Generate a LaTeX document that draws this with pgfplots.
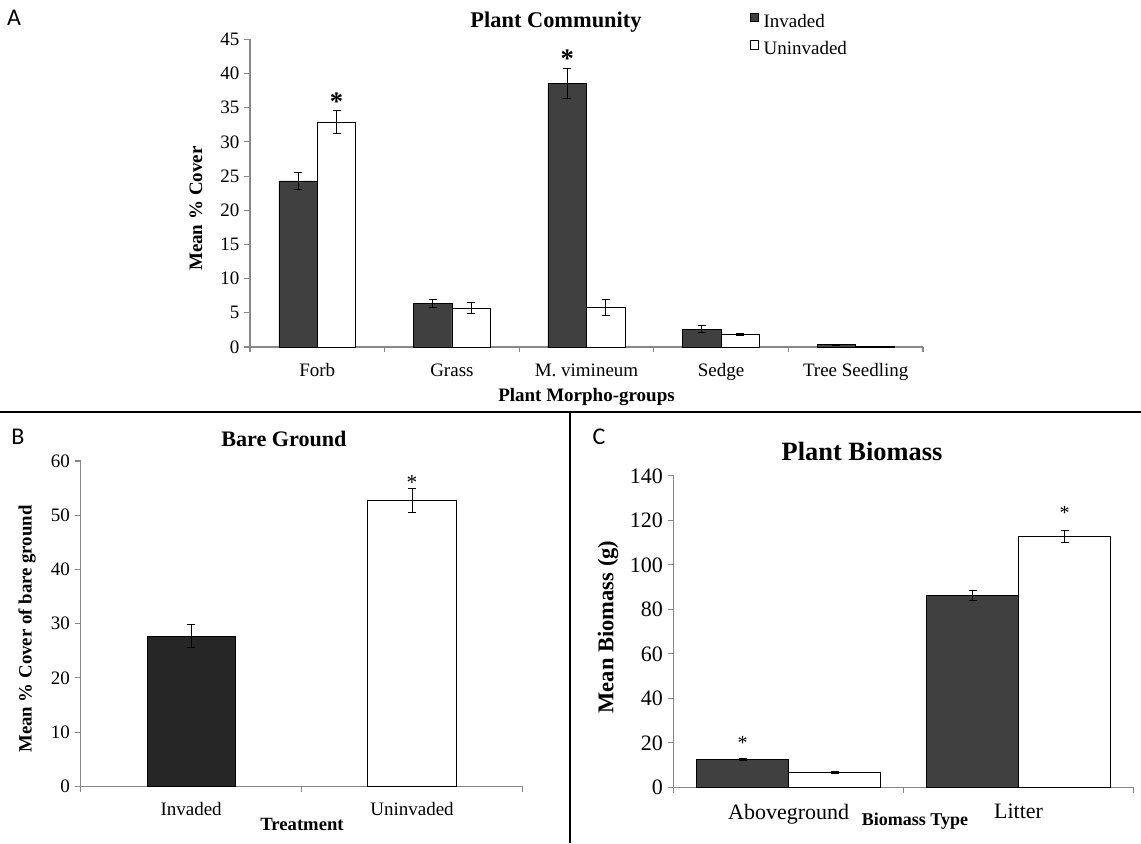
\documentclass[border=0pt]{standalone}
\usepackage{pgfplots}
\pgfplotsset{compat=1.18}
\usepackage{fontspec}
\setmainfont{Liberation Serif}
\newfontfamily\calibri{Carlito}
\definecolor{invA}{HTML}{404040}
\definecolor{invB}{HTML}{262626}
\definecolor{axgray}{HTML}{888888}
\newcommand{\fs}[1]{\fontsize{#1}{#1}\selectfont}
\pgfplotsset{
  panel/.style={
    scale only axis, anchor=south west,
    axis lines=left, axis line style={-, axgray, line width=0.8pt},
    enlargelimits=false, clip=false,
    tick align=outside,
    major tick length=4.5pt, minor tick length=4pt,
    major x tick style={draw=none},
    minor x tick style={axgray, line width=0.8pt},
    ytick style={axgray, line width=0.8pt},
    /pgf/number format/assume math mode=true,
    error bars/y dir=both, error bars/y explicit,
    error bars/error bar style={black, line width=0.6pt},
    error bars/error mark options={rotate=90, black, mark size=3pt, line width=0.6pt},
    xlabel style={anchor=base},
    ylabel style={anchor=center},
  },
  invbar/.style={fill=invA, draw=black, line width=0.4pt},
  unbar/.style={fill=white, draw=black, line width=0.6pt},
}
\begin{document}
\begin{tikzpicture}
\path[use as bounding box] (0pt,0pt) rectangle (855.75pt,632.25pt);
% dividers
\draw[line width=1.3pt] (0pt,323.25pt) -- (855.75pt,323.25pt);
\draw[line width=1.3pt] (427.5pt,323.25pt) -- (427.5pt,0pt);
% panel letters
\node[font=\calibri\fs{18}] at (10.5pt,618.75pt) {A};
\node[font=\calibri\fs{18}] at (13.5pt,304.5pt) {B};
\node[font=\calibri\fs{18}] at (449.25pt,304.5pt) {C};

% ---------------- Panel A ----------------
\begin{axis}[panel,
  at={(187.5pt,372pt)}, width=504.75pt, height=230.8pt,
  xmin=-0.5, xmax=4.5, ymin=0, ymax=45, ytick={0,5,...,45},
  xtick={0,1,2,3,4},
  xticklabels={Forb,Grass,M. vimineum,Sedge,Tree Seedling},
  minor xtick={-0.5,0.5,1.5,2.5,3.5,4.5},
  ybar=0pt, bar width=28.9pt,
  ticklabel style={font=\fs{14.25}},
  xticklabel style={yshift=-4.5pt},
  xlabel={\textbf{Plant Morpho-groups}}, xlabel style={at={(0.5,-0.1778)}, font=\fs{14.25}},
  ylabel={\textbf{Mean \% Cover}}, ylabel style={at={(-0.0802,0.4495)}, font=\fs{14.25}},
  legend cell align=left,
  legend image code/.code={\draw[#1,draw=black,line width=0.4pt] (0pt,0pt) rectangle (5.6pt,6.6pt);},
  legend style={at={(0.737,1.10)}, anchor=north west, draw=none, fill=none,
    font=\fs{14.25}, row sep=5pt, column sep=2pt},
]
\addplot[invbar] coordinates {(0,24.3) +- (0,1.3) (1,6.4) +- (0,0.6) (2,38.6) +- (0,2.2) (3,2.6) +- (0,0.5) (4,0.35) +- (0,0.1)};
\addlegendentry{Invaded}
\addplot[unbar] coordinates {(0,32.9) +- (0,1.7) (1,5.65) +- (0,0.8) (2,5.8) +- (0,1.2) (3,1.85) +- (0,0.2) (4,0.1) +- (0,0.05)};
\addlegendentry{Uninvaded}
\node[anchor=base, font=\fs{16.8}\bfseries] at (rel axis cs:0.4547,1.039) {Plant Community};
\node[anchor=base, font=\fs{20}\bfseries] at (axis cs:0.143,34.65) {*};
\node[anchor=base, font=\fs{20}\bfseries] at (axis cs:1.857,40.8) {*};
\end{axis}

% ---------------- Panel B ----------------
\begin{axis}[panel,
  at={(60.5pt,42.5pt)}, width=331.35pt, height=244pt,
  xmin=-0.5, xmax=1.5, ymin=0, ymax=60, ytick={0,10,...,60},
  xtick={0,1}, xticklabels={Invaded,Uninvaded}, minor xtick={-0.5,0.5,1.5},
  ybar, bar width=66.5pt,
  ticklabel style={font=\fs{14.25}},
  xticklabel style={yshift=-3.75pt},
  xlabel={\textbf{Treatment}}, xlabel style={at={(0.501,-0.1343)}, font=\fs{14}},
  ylabel={\textbf{Mean \% Cover of bare ground}}, ylabel style={at={(-0.1215,0.4835)}, font=\fs{14.1}},
]
\addplot[fill=invB, draw=black, line width=0.4pt, bar shift=0pt] coordinates {(0,27.7) +- (0,2.1)};
\addplot[unbar, bar shift=0pt] coordinates {(1,52.7) +- (0,2.2)};
\node[anchor=base, font=\fs{16.6}\bfseries] at (rel axis cs:0.460,1.046) {Bare Ground};
\node[anchor=base, font=\fs{16}] at (axis cs:1,54.8) {*};
\end{axis}

% ---------------- Panel C ----------------
\begin{axis}[panel,
  at={(505.2pt,41.8pt)}, width=345pt, height=233.5pt,
  xmin=-0.5, xmax=1.5, ymin=0, ymax=140, ytick={0,20,...,140},
  xtick={0,1}, xticklabels={Aboveground,Litter}, minor xtick={-0.5,0.5,1.5},
  ybar=0pt, bar width=69pt,
  ticklabel style={font=\fs{16.5}},
  xticklabel style={yshift=-4.5pt},
  xlabel={\textbf{Biomass Type}}, xlabel style={at={(0.5248,-0.1243)}, font=\fs{13.5}},
  ylabel={\textbf{Mean Biomass (g)}}, ylabel style={at={(-0.1426,0.515)}, font=\fs{16.9}},
]
\addplot[invbar] coordinates {(0,12.7) +- (0,0.5) (1,86.3) +- (0,2.2)};
\addplot[unbar] coordinates {(0,6.6) +- (0,0.4) (1,113.0) +- (0,2.7)};
\node[anchor=base, font=\fs{19.8}\bfseries] at (rel axis cs:0.4096,1.048) {Plant Biomass};
\node[anchor=base, font=\fs{15}] at (axis cs:-0.2,16.9) {*};
\node[anchor=base, font=\fs{15}] at (axis cs:1.2,120.3) {*};
\end{axis}
\end{tikzpicture}
\end{document}
